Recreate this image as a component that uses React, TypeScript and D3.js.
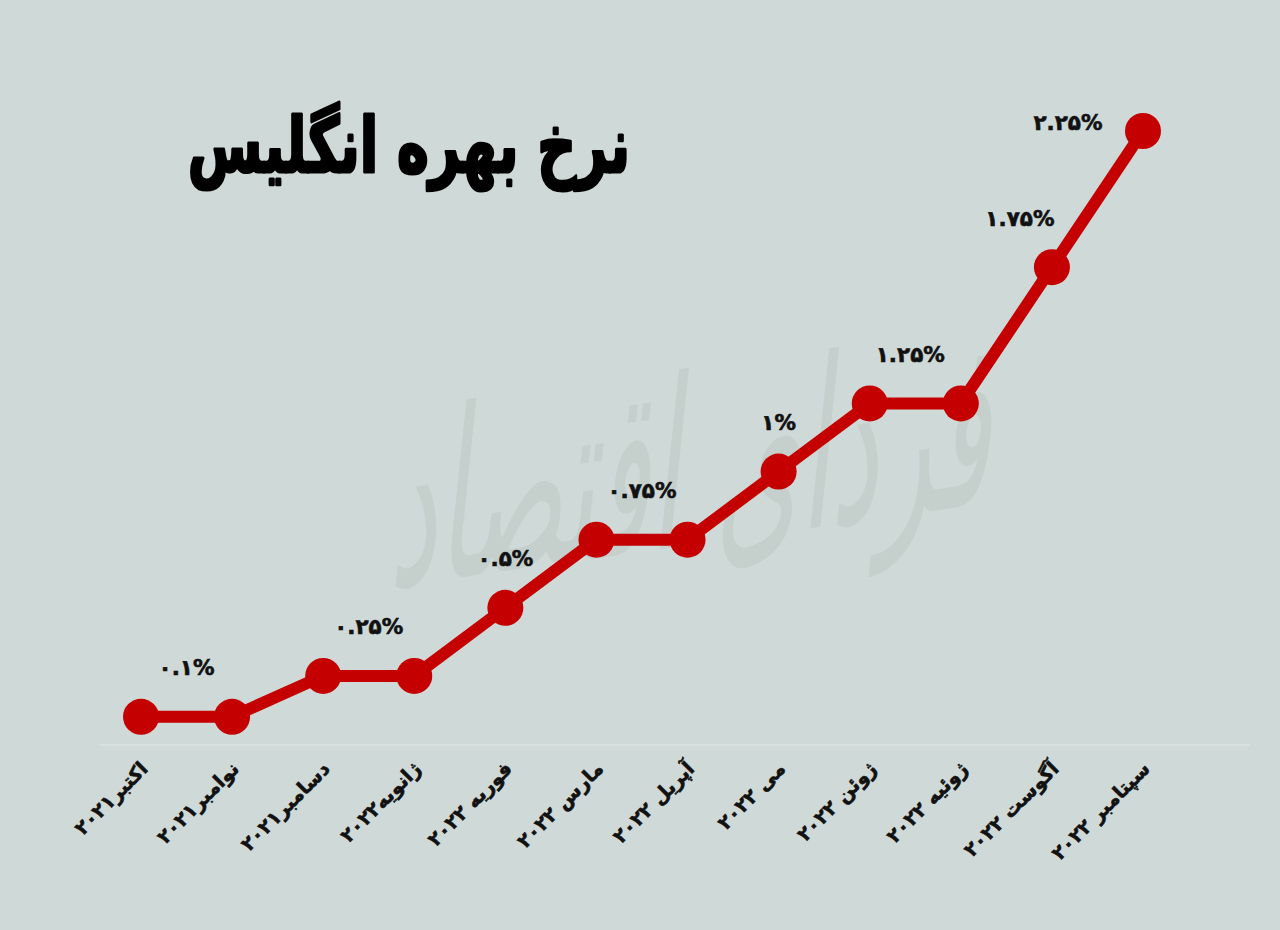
import React from "react";
import * as d3 from "d3";

const months = [
  "اکتبر۲۰۲۱",
  "نوامبر۲۰۲۱",
  "دسامبر۲۰۲۱",
  "ژانویه۲۰۲۲",
  "فوریه ۲۰۲۲",
  "مارس ۲۰۲۲",
  "آپریل ۲۰۲۲",
  "می ۲۰۲۲",
  "ژوئن ۲۰۲۲",
  "ژوئیه ۲۰۲۲",
  "آگوست ۲۰۲۲",
  "سپتامبر ۲۰۲۲",
];
const rates = [0.1, 0.1, 0.25, 0.25, 0.5, 0.75, 0.75, 1, 1.25, 1.25, 1.75, 2.25];
const title = "نرخ بهره انگلیس";
const watermark = "فردای اقتصاد";

const W = 1280;
const H = 930;
const BG = "#cfd9d7";
const RED = "#c40000";
const FONT = "'DejaVu Sans', sans-serif";

const toFa = (s: string) => s.replace(/[0-9]/g, (d) => "۰۱۲۳۴۵۶۷۸۹"[+d]);
const fmt = (v: number) => toFa(String(v)) + "%";

export default function App() {
  const x = d3.scalePoint<number>().domain(d3.range(rates.length)).range([141, 1143]);
  const y = d3.scaleLinear().domain([0, 2.25]).range([744, 131]);
  const line = d3
    .line<number>()
    .x((_, i) => x(i) as number)
    .y((d) => y(d));

  // group equal consecutive values for labels
  const groups: { v: number; idx: number[] }[] = [];
  rates.forEach((v, i) => {
    const g = groups[groups.length - 1];
    if (g && g.v === v) g.idx.push(i);
    else groups.push({ v, idx: [i] });
  });
  const labelShift: Record<number, [number, number]> = {
    1.25: [-5, 0],
    1.75: [-32, 0],
    2.25: [-75, 40],
  };

  return (
    <svg
      width={W}
      height={H}
      style={{ position: "absolute", left: 0, top: 0, background: BG }}
    >
      <rect width={W} height={H} fill={BG} />
      {/* watermark */}
      <g transform="translate(690,545) rotate(-8) skewX(-14) scale(1,2.1)">
        <text
          textAnchor="middle"
          fontFamily={FONT}
          fontSize={110}
          fill="#c2cdca"
          opacity={0.75}
        >
          {watermark}
        </text>
      </g>
      {/* faint baseline */}
      <line x1={100} x2={1250} y1={745} y2={745} stroke="#d8e0de" strokeWidth={2} />

      {/* title */}
      <g transform="translate(630,172) scale(0.9,1.28)">
        <text
          textAnchor="end"
          fontFamily={FONT}
          fontWeight="bold"
          fontSize={60}
          fill="#000"
          stroke="#000"
          strokeWidth={2.5}
          strokeLinejoin="round"
        >
          {title}
        </text>
      </g>

      {/* line */}
      <path d={line(rates) || ""} fill="none" stroke={RED} strokeWidth={12} strokeLinejoin="round" />
      {rates.map((v, i) => (
        <circle key={i} cx={x(i)} cy={y(v)} r={18} fill={RED} />
      ))}

      {/* value labels */}
      {groups.map((g, k) => {
        const cx = d3.mean(g.idx, (i) => x(i) as number) as number;
        const sh = labelShift[g.v] || [0, 0];
        return (
          <text
            key={k}
            x={cx + sh[0]}
            y={y(g.v) - 49 + sh[1]}
            dy="0.35em"
            textAnchor="middle"
            fontFamily={FONT}
            fontWeight="bold"
            fontSize={21.5}
            fill="#111"
            stroke="#111"
            strokeWidth={0.6}
          >
            {fmt(g.v)}
          </text>
        );
      })}

      {/* axis labels */}
      {months.map((m, i) => (
        <text
          key={i}
          transform={`translate(${(x(i) as number) + 8},${770}) rotate(-45)`}
          textAnchor="end"
          fontFamily={FONT}
          fontWeight="bold"
          fontSize={19.5}
          fill="#111"
          stroke="#111"
          strokeWidth={0.6}
        >
          {m}
        </text>
      ))}
    </svg>
  );
}
